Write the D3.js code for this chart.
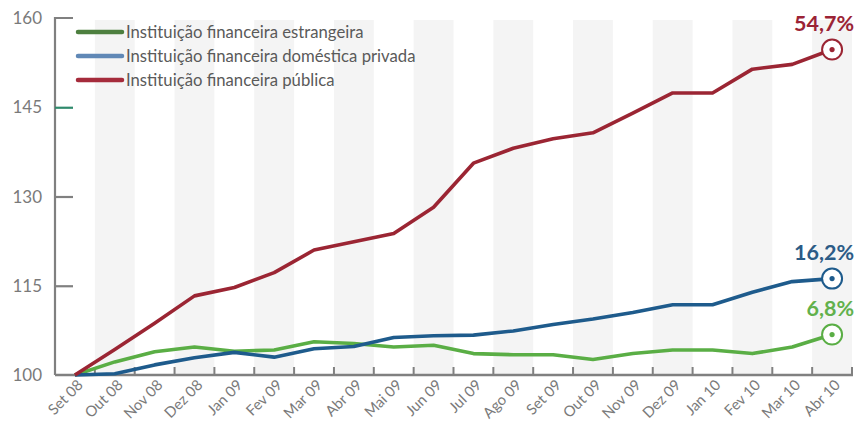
<!DOCTYPE html>
<html>
<head>
<meta charset="utf-8">
<script src="https://cdn.jsdelivr.net/npm/d3@7"></script>
<style>
  html, body { margin: 0; padding: 0; background: #fff; }
  svg { display: block; font-family: Lato, "Open Sans", sans-serif; }
</style>
</head>
<body>
<svg id="chart" width="861" height="423"></svg>
<script>
// Monthly categories (Sep 2008 = 100)
const months = ["Set 08","Out 08","Nov 08","Dez 08","Jan 09","Fev 09","Mar 09","Abr 09","Mai 09","Jun 09",
                "Jul 09","Ago 09","Set 09","Out 09","Nov 09","Dez 09","Jan 10","Fev 10","Mar 10","Abr 10"];

const estrangeira = [100, 102.2, 103.9, 104.7, 104.0, 104.2, 105.6, 105.3, 104.7, 105.0,
                     103.6, 103.4, 103.4, 102.6, 103.6, 104.2, 104.2, 103.6, 104.7, 106.8];
const domesticaPrivada = [100, 100.2, 101.7, 102.9, 103.8, 103.0, 104.4, 104.8, 106.3, 106.6,
                          106.7, 107.4, 108.5, 109.4, 110.5, 111.8, 111.8, 113.9, 115.7, 116.2];
const publica = [100, 104.3, 108.7, 113.3, 114.7, 117.2, 121.0, 122.4, 123.8, 128.2,
                 135.6, 138.1, 139.7, 140.7, 144.0, 147.4, 147.4, 151.4, 152.2, 154.7];

const yTicks = [100, 115, 130, 145, 160];

const seriesNames = ["Instituição financeira estrangeira",
                     "Instituição financeira doméstica privada",
                     "Instituição financeira pública"];

const series = [
  { name: seriesNames[0], values: estrangeira,      line: "#5aae45", legend: "#4d7f3f", text: "#62b14c" },
  { name: seriesNames[1], values: domesticaPrivada, line: "#1e5b8c", legend: "#6088b6", text: "#2b5b86" },
  { name: seriesNames[2], values: publica,          line: "#9b2533", legend: "#a52b3b", text: "#9b2335" }
];

const svg = d3.select("#chart");
const plotLeft = 55, plotRight = 852, plotTop = 18, plotBottom = 375;

const x = d3.scaleBand().domain(months).range([plotLeft, plotRight]).paddingInner(0).paddingOuter(0);
const cx = d => x(d) + x.bandwidth() / 2;
const y = d3.scaleLinear().domain([100, 160]).range([plotBottom, plotTop]);

// alternating column shading
svg.append("g").selectAll("rect")
  .data(months.filter((m, i) => i % 2 === 1))
  .join("rect")
  .attr("x", d => x(d))
  .attr("y", y(160) + 2)
  .attr("width", x.bandwidth())
  .attr("height", plotBottom - y(160) - 2)
  .attr("fill", "#f4f4f4");

// y axis
const yAxis = svg.append("g").attr("transform", `translate(${plotLeft},0)`)
  .call(d3.axisRight(y).tickValues(yTicks).tickSize(18).tickFormat(""));
yAxis.select(".domain").attr("stroke", "#808080").attr("stroke-width", 2.2)
  .attr("d", `M18,${y(160)}H0V${plotBottom}`);
yAxis.selectAll(".tick line").attr("stroke", "#808080").attr("stroke-width", 2.2);
yAxis.selectAll(".tick").filter(d => d === 145).select("line").attr("stroke", "#2f8a6c");
yAxis.selectAll(".tick").filter(d => d === 100 || d === 160).select("line").remove();

svg.append("g").selectAll("text")
  .data(yTicks)
  .join("text")
  .attr("x", 42)
  .attr("y", d => y(d) + 6)
  .attr("text-anchor", "end")
  .attr("font-size", 17)
  .attr("fill", "#7a7a7a")
  .text(d => d);

// x axis
const tickPos = months.map(m => x(m)).concat([plotRight]);
const xAxis = svg.append("g");
xAxis.append("line")
  .attr("x1", plotLeft).attr("x2", plotRight + 1)
  .attr("y1", plotBottom).attr("y2", plotBottom)
  .attr("stroke", "#808080").attr("stroke-width", 2.6);
xAxis.selectAll("line.tk")
  .data(tickPos.slice(1))
  .join("line")
  .attr("class", "tk")
  .attr("x1", d => d).attr("x2", d => d)
  .attr("y1", plotBottom).attr("y2", plotBottom - 8)
  .attr("stroke", "#808080").attr("stroke-width", 2);

xAxis.selectAll("text")
  .data(months)
  .join("text")
  .attr("transform", d => `translate(${cx(d) + 9},${plotBottom + 11}) rotate(-45)`)
  .attr("text-anchor", "end")
  .attr("font-size", 14.8)
  .attr("fill", "#7a7a7a")
  .text(d => d);

// series lines
const line = d3.line()
  .x((d, i) => cx(months[i]))
  .y(d => y(d));

svg.append("g").selectAll("path")
  .data(series)
  .join("path")
  .attr("d", d => line(d.values))
  .attr("fill", "none")
  .attr("stroke", d => d.line)
  .attr("stroke-width", 3.6)
  .attr("stroke-linejoin", "round");

// end markers and change labels
const last = months.length - 1;
const ends = svg.append("g").selectAll("g")
  .data(series)
  .join("g")
  .attr("transform", d => `translate(${cx(months[last])},${y(d.values[last])})`);
ends.append("circle").attr("r", 10).attr("fill", "#fff")
  .attr("stroke", d => d.line).attr("stroke-width", 2);
ends.append("circle").attr("r", 2.6).attr("fill", d => d.line);
ends.append("text")
  .attr("x", 22)
  .attr("y", -19)
  .attr("text-anchor", "end")
  .attr("font-size", 21.5)
  .attr("font-weight", "bold")
  .attr("fill", d => d.text)
  .text(d => d3.format(".1f")(d.values[last] - 100).replace(".", ",") + "%");

// legend
const legend = svg.append("g").selectAll("g")
  .data(series)
  .join("g")
  .attr("transform", (d, i) => `translate(78,${32 + i * 24})`);
legend.append("line")
  .attr("x1", 0).attr("x2", 44)
  .attr("stroke", d => d.legend)
  .attr("stroke-width", 4.5)
  .attr("stroke-linecap", "round");
legend.append("text")
  .attr("x", 48)
  .attr("y", 6)
  .attr("font-size", 16.7)
  .attr("fill", "#5a5a5a")
  .text(d => d.name);
</script>
</body>
</html>
